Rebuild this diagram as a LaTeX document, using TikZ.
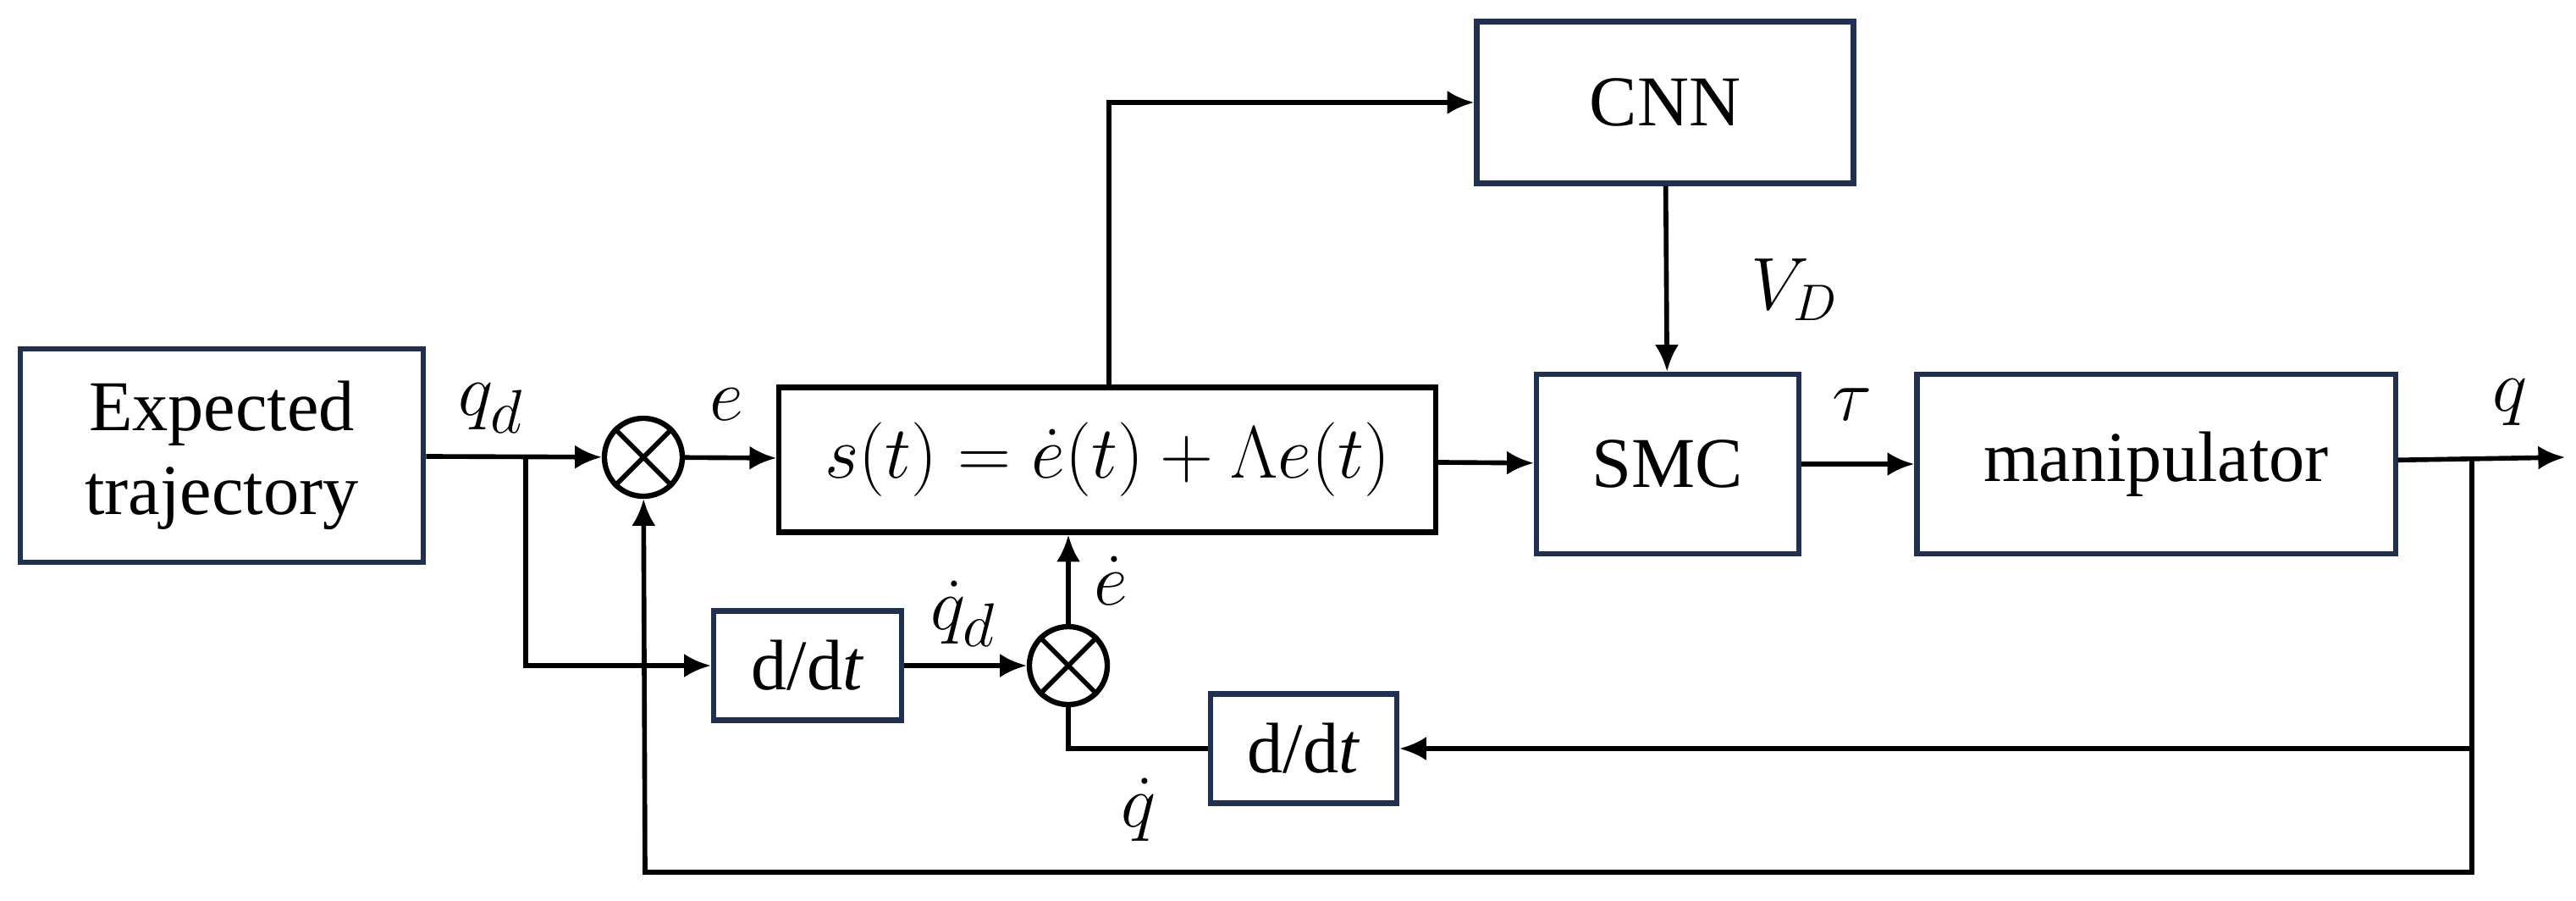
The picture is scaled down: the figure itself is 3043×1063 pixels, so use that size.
\documentclass[tikz,border=0pt]{standalone}
\usepackage{fontspec}
\setmainfont{Liberation Serif}
\usetikzlibrary{arrows.meta}
\definecolor{boxblue}{HTML}{1F3050}

\begin{document}
\begin{tikzpicture}[x=0.01cm, y=-0.01cm,
    font=\fontsize{24}{28}\selectfont,
    every path/.style={line width=1.6pt},
    blk/.style={draw=boxblue, line width=1.8pt, align=center, inner sep=0pt},
    sumj/.style={circle, draw, line width=1.8pt, minimum size=0.92cm, inner sep=0pt},
    sig/.style={-{Latex[length=9pt,width=8pt]}},
    lbl/.style={font=\fontsize{30}{32}\selectfont, inner sep=0pt}]
    \useasboundingbox (0,0) rectangle (3043,1063);
    % blocks
    \node (traj) [blk, minimum width=4.76cm, minimum height=2.52cm] at (262,538) {Expected\\trajectory};
    \node (sfun) [draw, line width=1.8pt, minimum width=7.75cm, minimum height=1.71cm, inner sep=0pt, font=\fontsize{28}{30}\selectfont] at (1308,543) {$s(t)=\dot{e}(t)+\Lambda e(t)$};
    \node (cnn) [blk, minimum width=4.45cm, minimum height=1.91cm] at (1967,121) {CNN};
    \node (smc) [blk, minimum width=3.10cm, minimum height=2.12cm] at (1970,548) {SMC};
    \node (plant) [blk, minimum width=5.65cm, minimum height=2.12cm] at (2547,548) {manipulator};
    \node (ddt1) [blk, minimum width=2.22cm, minimum height=1.29cm] at (954,786) {d/d\textit{t}};
    \node (ddt2) [blk, minimum width=2.20cm, minimum height=1.29cm] at (1540,884) {d/d\textit{t}};
    % summing junctions
    \node (sum1) [sumj] at (760,540) {};
    \draw (sum1.north west) -- (sum1.south east) (sum1.north east) -- (sum1.south west);
    \node (sum2) [sumj] at (1262,786) {};
    \draw (sum2.north west) -- (sum2.south east) (sum2.north east) -- (sum2.south west);
    % branch points
    \coordinate (qdsplit) at (621,540);
    \coordinate (qsplit) at (2920,540);
    \coordinate (qend) at (3030,540);
    \coordinate (ssplit) at (1310,457);
    % signal labels
    \node (lqd) [lbl] at (580,482) {$q_d$};
    \node (le) [lbl, font=\fontsize{38}{40}\selectfont] at (858,478) {$e$};
    \node (ledot) [lbl] at (1312,686) {$\dot{e}$};
    \node (lqdd) [lbl] at (1138,725) {$\dot{q}_d$};
    \node (lqdot) [lbl] at (1345,956) {$\dot{q}$};
    \node (lvd) [lbl, font=\fontsize{24}{26}\selectfont] at (2120,342) {$V_D$};
    \node (ltau) [lbl, font=\fontsize{38}{40}\selectfont] at (2188,478) {$\tau$};
    \node (lq) [lbl, font=\fontsize{34}{36}\selectfont] at (2965,475) {$q$};
    % signals
    \draw[sig] (traj) -- (sum1);
    \draw[sig] (sum1) -- (sfun);
    \draw[sig] (qdsplit) |- (ddt1);
    \draw[sig] (ddt1) -- (sum2);
    \draw[sig] (sum2) -- (sum2 |- sfun.south);
    \draw[sig] (ssplit) |- (cnn);
    \draw[sig] (cnn) -- (smc);
    \draw[sig] (sfun) -- (smc);
    \draw[sig] (smc) -- (plant);
    \draw[sig] (plant) -- (qend);
    \draw[sig] (qsplit) |- (ddt2);
    \draw (ddt2) -| (sum2);
    \draw[sig] (qsplit) |- (762,1030) -- (sum1);
\end{tikzpicture}
\end{document}
